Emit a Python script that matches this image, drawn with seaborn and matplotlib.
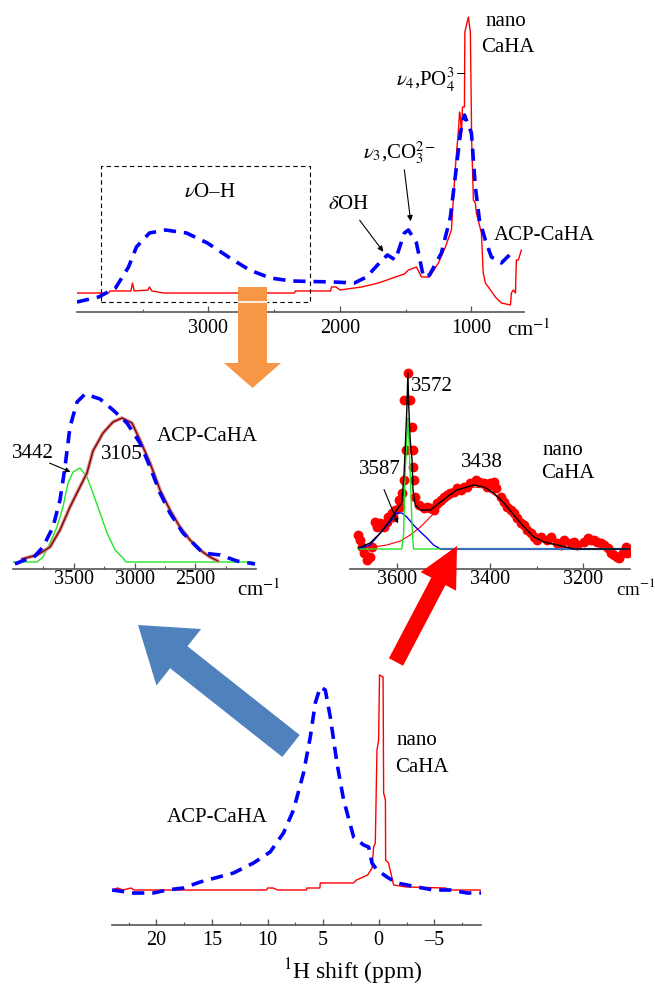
import matplotlib
matplotlib.use("Agg")
import matplotlib.pyplot as plt
from matplotlib.patches import FancyArrow, Rectangle
import numpy as np
import pandas as pd
import seaborn as sns

# ---- top panel: IR spectra (wavenumber cm-1, intensity a.u.)
ir_nano_wn = [4000, 3760, 3750, 3700, 3590, 3578, 3565, 3460, 3449, 3430, 3340, 2346, 2340,
              2070, 2065, 2030, 2000, 1836, 1707, 1578, 1510, 1479, 1418, 1380, 1350, 1319,
              1251, 1198, 1152, 1122, 1100, 1090, 1083, 1076, 1068, 1053, 1050, 1023, 1008,
              998, 985, 970, 962, 924, 910, 894, 871, 818, 795, 772, 703, 696, 681, 665,
              658, 643, 620]
ir_nano = [19, 19, 21, 21, 21, 29, 21, 22, 25, 21, 19, 19, 21,
           21, 25, 25, 22, 25, 29, 35, 38, 42, 45, 35, 35, 35,
           49, 65, 82, 145, 180, 200, 194, 175, 205, 205, 280, 295, 280,
           172, 112, 109, 99, 79, 39, 29, 25, 15, 12, 9, 7, 19, 22, 19,
           52, 52, 62]
ir_acp_wn = [4000, 3836, 3707, 3608, 3548, 3449, 3327, 3167, 3008, 2848, 2688, 2529, 2369,
             2049, 1890, 1798, 1700, 1639, 1578, 1510, 1479, 1418, 1365, 1319, 1228, 1160,
             1114, 1084, 1053, 1000, 970, 939, 894, 848, 772, 696, 665]
ir_acp = [10, 15, 24, 45, 65, 79, 82, 79, 69, 55, 42, 34, 31,
          30, 29, 35, 49, 57, 52, 79, 82, 69, 35, 37, 59, 95,
          145, 179, 197, 179, 125, 92, 72, 55, 49, 59, 62]

# ---- middle left: O-H band of ACP-CaHA and its fit components
oh_acp_wn = [3984, 3885, 3835, 3753, 3671, 3613, 3572, 3531, 3473, 3407, 3284, 3177, 3062,
             2955, 2872, 2790, 2708, 2601, 2486, 2436, 2296, 2156, 2008]
oh_acp = [5, 10, 11, 22, 42, 69, 102, 142, 167, 175, 170, 159, 146,
          126, 102, 76, 56, 36, 22, 16, 14, 8, 5]
fit3105_wn = [3926, 3800, 3695, 3613, 3531, 3449, 3391, 3342, 3259, 3177, 3103, 3021, 2955,
              2872, 2790, 2708, 2626, 2543, 2461, 2379, 2313]
fit3105 = [10, 14, 22, 39, 62, 82, 96, 118, 136, 147, 151, 146, 129,
           106, 79, 59, 42, 29, 19, 12, 8]
fit3442_wn = [4000, 3802, 3753, 3695, 3638, 3589, 3547, 3506, 3449, 3391, 3342, 3284, 3226,
              3160, 3095, 3070, 2025]
fit3442 = [7, 7, 12, 26, 42, 62, 86, 97, 101, 92, 76, 56, 36, 19, 11, 7, 7]

# ---- middle right: O-H band of nano CaHA (data points and fit)
pts_wn = [3682, 3678, 3675, 3671, 3664, 3657, 3653, 3646, 3643, 3635, 3628, 3621, 3618, 3610,
          3607, 3603, 3596, 3592, 3589, 3584, 3580, 3584, 3571, 3575, 3567, 3565, 3564, 3562,
          3560, 3553, 3542, 3535, 3528, 3521, 3514, 3506, 3499, 3492, 3485, 3478, 3471, 3463,
          3456, 3449, 3442, 3431, 3424, 3413, 3406, 3399, 3392, 3388, 3377, 3370, 3363, 3356,
          3349, 3342, 3334, 3327, 3320, 3313, 3306, 3299, 3291, 3277, 3270, 3256, 3248, 3241,
          3227, 3220, 3213, 3198, 3191, 3184, 3177, 3170, 3163, 3155, 3148, 3141, 3134, 3127,
          3123, 3116, 3109, 3106, 3098]
pts_int = [34, 29, 22, 16, 9, 12, 22, 47, 42, 46, 42, 47, 52, 56,
           52, 59, 69, 62, 76, 89, 119, 169, 169, 196, 142, 119, 102, 89,
           72, 64, 61, 62, 61, 59, 66, 69, 72, 74, 76, 77, 81, 79,
           82, 82, 86, 89, 87, 86, 82, 86, 87, 81, 72, 67, 62, 59,
           56, 51, 46, 44, 39, 36, 32, 29, 32, 29, 32, 26, 24, 29,
           26, 27, 24, 27, 31, 29, 29, 27, 26, 24, 21, 16, 14, 12,
           11, 16, 22, 16, 17]
fit_tot_wn = [3682, 3657, 3635, 3614, 3600, 3589, 3584, 3581, 3578, 3576, 3574, 3571, 3567,
              3565, 3560, 3549, 3528, 3514, 3492, 3471, 3456, 3435, 3413, 3392, 3370, 3349,
              3327, 3306, 3284, 3256, 3220, 3098]
fit_tot = [21, 26, 36, 49, 59, 66, 96, 129, 162, 196, 162, 129, 109,
           79, 64, 59, 59, 64, 72, 79, 81, 84, 82, 76, 66, 54,
           42, 32, 27, 24, 20, 20]
fit3572_wn = [3682, 3589, 3585, 3582, 3578, 3576, 3574, 3571, 3567, 3564, 3506]
fit3572 = [20, 20, 36, 96, 132, 151, 132, 96, 42, 20, 20]
fit3587_wn = [3682, 3657, 3635, 3614, 3600, 3589, 3578, 3564, 3549, 3535, 3521, 3506]
fit3587 = [20, 24, 36, 47, 56, 56, 52, 44, 37, 31, 24, 20]
base_wn = [3506, 3098]
base_int = [20, 20]
fit3438_wn = [3682, 3650, 3621, 3592, 3571, 3549, 3528, 3506, 3485, 3456, 3435, 3413, 3384,
              3349, 3313, 3277, 3220]
fit3438 = [20, 22, 24, 28, 34, 42, 52, 62, 71, 79, 82, 81, 72, 54, 36, 26, 20]

# ---- bottom panel: 1H NMR (ppm, intensity)
nmr_nano_ppm = [24, 23.5, 23, 22.3, 22, 10.1, 10, 9.5, 9.1, 6.5, 6.46, 5.3, 5.26, 2.3, 2.0,
                1.4, 1.0, 0.6, 0.46, 0.31, 0.16, 0.01, -0.07, -0.39, -0.44, -0.6, -0.62,
                -0.88, -1.34, -2.5, -6.0, -6.25, -9.2]
nmr_nano = [35, 37, 35, 37, 35, 35, 37, 37, 35, 35, 37, 37, 42, 42, 45,
            48, 50, 57, 78, 82, 175, 185, 250, 248, 132, 125, 65,
            62, 40, 38, 37, 35, 35]
nmr_acp_ppm = [24, 22.08, 20.28, 19.07, 17.58, 16.07, 13.07, 11.27, 9.77, 8.57, 7.67, 6.77,
               6.16, 5.71, 5.26, 4.81, 4.36, 3.76, 3.16, 2.26, 1.36, 0.91, 0.61, 0.16, -0.74,
               -1.64, -3.44, -4.94, -6.45, -7.95, -9.2]
nmr_acp = [35, 32, 32, 35, 37, 43, 52, 62, 73, 92, 115, 152,
           188, 222, 238, 235, 208, 162, 125, 88, 80, 78, 62, 55, 48,
           42, 38, 35, 35, 32, 32]

W, H = 655, 988
RED, BLUE, GREEN = "#ff0000", "#0000ff", "#22e522"

sns.set_theme(style="white")
plt.rcParams["font.family"] = ["Liberation Serif", "DejaVu Serif"]
plt.rcParams["mathtext.fontset"] = "stix"
plt.rcParams["text.color"] = "black"
plt.rcParams["xtick.labelcolor"] = "black"

fig = plt.figure(figsize=(W / 100, H / 100), dpi=100)


def panel(x0, y0, x1, y1):
    return fig.add_axes([x0 / W, 1 - y1 / H, (x1 - x0) / W, (y1 - y0) / H])


def style(ax, major, minor, labels=None, pad=4):
    sns.despine(ax=ax, left=True)
    ax.spines["bottom"].set_color("#555555")
    ax.spines["bottom"].set_linewidth(1.2)
    ax.set_yticks([])
    ax.set_xticks(major)
    ax.set_xticks(minor, minor=True)
    if labels is not None:
        ax.set_xticklabels(labels)
    ax.tick_params(axis="x", which="both", direction="in", color="#555555",
                   labelsize=14.5, labelcolor="black", pad=pad, bottom=True)
    ax.tick_params(axis="x", which="major", length=4, width=0.9)
    ax.tick_params(axis="x", which="minor", length=2.5, width=0.8)
    ax.set_xlabel("")
    ax.set_ylabel("")
    ax.patch.set_alpha(0)


def line(ax, x, y, color, lw=1.0, dashed=False, z=3):
    sns.lineplot(x=x, y=y, ax=ax, color=color, lw=lw, sort=False, estimator=None, zorder=z)
    ln = ax.lines[-1]
    if dashed:
        ln.set_dashes([3.4, 2.2])
        ln.set_dash_capstyle("butt")
    return ln


# top panel
ax1 = panel(77, 10, 524, 312)
line(ax1, ir_nano_wn, ir_nano, RED, lw=1.0)
line(ax1, ir_acp_wn, ir_acp, BLUE, lw=2.6, dashed=True)
ax1.add_patch(Rectangle((3814, 10), 2224 - 3814, 136, fill=False, ec="black", lw=0.8,
                        ls=(0, (4, 3)), clip_on=False, zorder=4))
ax1.set_xlim(4000, 600)
ax1.set_ylim(0, 302)
style(ax1, [3000, 2000, 1000], [3500, 2500, 1500], pad=5)

# middle left
ax2 = panel(13, 380, 256, 569)
line(ax2, fit3442_wn, fit3442, GREEN, lw=1.0)
line(ax2, fit3105_wn, fit3105, "#d09090", lw=2.6, z=3)
line(ax2, fit3105_wn, fit3105, "#8b0000", lw=1.0, z=3)
line(ax2, oh_acp_wn, oh_acp, BLUE, lw=2.6, dashed=True, z=4)
ax2.set_xlim(4000, 2000)
ax2.set_ylim(0, 189)
style(ax2, [3500, 3000, 2500], [3750, 3250, 2750, 2250], pad=1)

# middle right
ax3 = panel(350, 360, 630, 569)
sns.scatterplot(x=pts_wn, y=pts_int, ax=ax3, color=RED, s=50, linewidth=0, zorder=2)
line(ax3, fit3438_wn, fit3438, RED, lw=0.8)
line(ax3, base_wn, base_int, "#3a70b8", lw=1.6)
line(ax3, fit3587_wn, fit3587, BLUE, lw=1.0)
line(ax3, fit3572_wn, fit3572, GREEN, lw=1.0)
line(ax3, fit_tot_wn, fit_tot, "black", lw=1.0, z=4)
ax3.set_xlim(3700, 3100)
ax3.set_ylim(0, 209)
style(ax3, [3600, 3400, 3200], [3500, 3300], pad=1)

# bottom panel
ax4 = panel(112, 660, 481, 925)
line(ax4, nmr_nano_ppm, nmr_nano, RED, lw=1.0)
line(ax4, nmr_acp_ppm, nmr_acp, BLUE, lw=2.6, dashed=True)
ax4.set_xlim(24, -9.2)
ax4.set_ylim(0, 265)
style(ax4, [20, 15, 10, 5, 0, -5], [22.5, 17.5, 12.5, 7.5, 2.5, -2.5, -7.5],
      labels=["20", "15", "10", "5", "0", "\u20135"], pad=4)

# overlay for arrows and labels (pixel coordinates)
ov = fig.add_axes([0, 0, 1, 1])
ov.set_xlim(0, W)
ov.set_ylim(H, 0)
ov.axis("off")
ov.patch.set_alpha(0)

ov.add_patch(FancyArrow(252.5, 287, 0, 101, width=29, head_width=57, head_length=25,
                        length_includes_head=True, color="#f79646", lw=0))
ov.plot([238, 267], [302.5, 302.5], color="white", lw=1.2)
ov.add_patch(FancyArrow(291, 746, -153, -121, width=28, head_width=72, head_length=52,
                        length_includes_head=True, color="#4f81bd", lw=0))
ov.add_patch(FancyArrow(396, 662, 61, -116, width=16, head_width=40, head_length=40,
                        length_includes_head=True, color=RED, lw=0))

fs = 15
txt = dict(ha="center", va="center", fontsize=fs)
# top
ov.text(506, 21, "nano", **txt)
ov.text(508, 48, "CaHA", **txt)
ov.text(431, 80, r"$\nu_4$,PO$_4^{3-}$", **txt)
ov.text(400, 153, r"$\nu_3$,CO$_3^{2-}$", **txt)
ov.text(349, 204, r"$\delta$OH", **txt)
ov.text(210, 192, r"$\nu$O–H", **txt)
ov.text(544, 235, "ACP-CaHA", **txt)
ov.text(507, 330, r"cm$^{-1}$", ha="left", va="center", fontsize=fs)
ov.annotate("", xy=(385, 254), xytext=(358, 218),
            arrowprops=dict(arrowstyle="-|>", color="black", lw=0.8, mutation_scale=8))
ov.annotate("", xy=(411, 224), xytext=(404, 167),
            arrowprops=dict(arrowstyle="-|>", color="black", lw=0.8, mutation_scale=8))
# middle left
ov.text(33, 453, "3442", **txt)
ov.text(122, 454, "3105", **txt)
ov.text(207, 436, "ACP-CaHA", **txt)
ov.text(237, 590, r"cm$^{-1}$", ha="left", va="center", fontsize=fs)
ov.annotate("", xy=(73, 473), xytext=(47, 462),
            arrowprops=dict(arrowstyle="-|>", color="black", lw=0.8, mutation_scale=7))
# middle right
ov.text(432, 386, "3572", **txt)
ov.text(380, 469, "3587", **txt)
ov.text(482, 462, "3438", **txt)
ov.text(563, 450, "nano", **txt)
ov.text(568, 473, "CaHA", **txt)
ov.text(616, 588, r"cm$^{-1}$", ha="left", va="center", fontsize=13.5)
ov.annotate("", xy=(399, 526), xytext=(383, 487),
            arrowprops=dict(arrowstyle="-|>", color="black", lw=0.8, mutation_scale=7))
# bottom
ov.text(417, 740, "nano", **txt)
ov.text(422, 767, "CaHA", **txt)
ov.text(217, 817, "ACP-CaHA", **txt)
ov.text(353, 972, r"$^{1}$H shift (ppm)", ha="center", va="center", fontsize=17)

fig.savefig("out.png", dpi=100)
